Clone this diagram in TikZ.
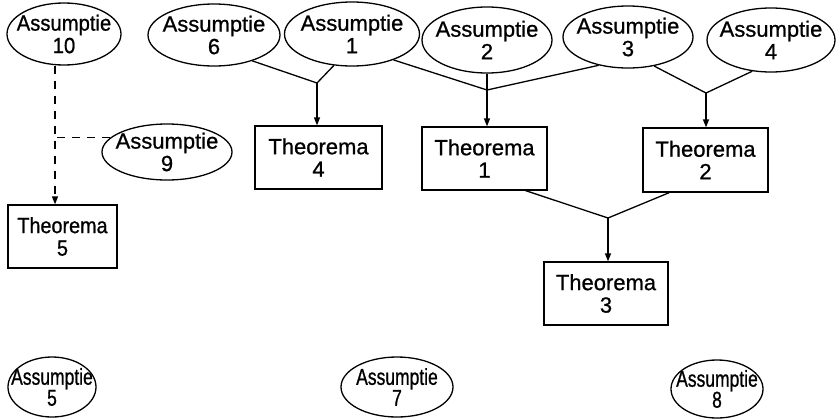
\documentclass[tikz,border=0pt]{standalone}
\usepackage{fontspec}
\setmainfont[FakeBold=0.8]{Liberation Sans}
\newfontfamily\narrowA[FakeStretch=0.92,FakeBold=0.8]{Liberation Sans}
\newfontfamily\narrowT[FakeStretch=0.9,FakeBold=0.8]{Liberation Sans}
\newfontfamily\narrowB[FakeStretch=0.76,FakeBold=0.8]{Liberation Sans}
\newcommand\fs{\fontsize{22}{22.5}\selectfont}
\newcommand\fsb{\fontsize{23}{21}\selectfont}
\usetikzlibrary{shapes.geometric,arrows.meta}
\tikzset{
  base/.style={draw, line width=1.3pt, font=\fs, align=center, text=black},
  asm/.style={base, ellipse, inner xsep=-30pt, inner ysep=-14pt},
  thm/.style={base, rectangle, inner sep=0pt},
  conn/.style={line width=1.3pt},
  arr/.style={conn, -{Triangle[length=8pt,width=6pt]}},
  dsh/.style={conn, dash pattern=on 8pt off 7pt},
}
\begin{document}
\begin{tikzpicture}[x=1pt,y=-1pt]
\useasboundingbox[fill=white] (0,0) rectangle (838,418);
% assumptions
\node[asm, minimum width=114pt, minimum height=62pt, font=\narrowA\fs] (A10) at (64,34) {Assumptie\\10};
\node[asm, minimum width=132pt, minimum height=62pt] (A6) at (214,35) {Assumptie\\6};
\node[asm, minimum width=135pt, minimum height=64pt] (A1) at (352,34) {Assumptie\\1};
\node[asm, minimum width=130pt, minimum height=66pt] (A2) at (487,40) {Assumptie\\2};
\node[asm, minimum width=130pt, minimum height=62pt] (A3) at (628,37) {Assumptie\\3};
\node[asm, minimum width=128pt, minimum height=64pt] (A4) at (771,40) {Assumptie\\4};
\node[asm, minimum width=130pt, minimum height=56pt] (A9) at (167,152) {Assumptie\\9};
\node[asm, minimum width=88pt, minimum height=60pt, font=\narrowB\fsb] (A5) at (52,387) {Assumptie\\5};
\node[asm, minimum width=112pt, minimum height=60pt, font=\narrowB\fsb] (A7) at (397,387) {Assumptie\\7};
\node[asm, minimum width=92pt, minimum height=58pt, font=\narrowB\fsb] (A8) at (717,389) {Assumptie\\8};
% theorems
\node[thm, minimum width=127pt, minimum height=63pt] (T4) at (318.5,157.5) {Theorema\\4};
\node[thm, minimum width=125pt, minimum height=63pt] (T1) at (484.5,158.5) {Theorema\\1};
\node[thm, minimum width=125pt, minimum height=64pt] (T2) at (705.5,160) {Theorema\\2};
\node[thm, minimum width=109pt, minimum height=63pt, font=\narrowT\fs] (T5) at (62.5,236.5) {Theorema\\5};
\node[thm, minimum width=124pt, minimum height=63pt] (T3) at (606,293.5) {Theorema\\3};
% junctions
\coordinate (jA) at (317,83);
\coordinate (jB) at (487,90);
\coordinate (jC) at (706,93);
\coordinate (jD) at (608,218);
\coordinate (jE) at (55,139);
% connectors
\draw[conn] (A6.-34) -- (jA);
\draw[conn] (A1.-120) -- (jA);
\draw[arr] (jA) -- (jA |- T4.north);
\draw[conn] (A1.-32) -- (jB);
\draw[conn] (A3.-136) -- (jB);
\draw[arr] (A2.south) -- (A2.south |- T1.north);
\draw[conn] (A3.-48) -- (jC);
\draw[conn] (A4.-121) -- (jC);
\draw[arr] (jC) -- (jC |- T2.north);
\draw[conn] (T1.-38) -- (jD);
\draw[conn] (T2.-138) -- (jD);
\draw[arr] (jD) -- (jD |- T3.north);
% dashed
\draw[dsh, -{Triangle[length=8pt,width=6pt]}] (jE |- A10.south) -- (jE |- T5.north);
\draw[dsh] (A9.166) -- (A9.166 -| jE);
\end{tikzpicture}
\end{document}
